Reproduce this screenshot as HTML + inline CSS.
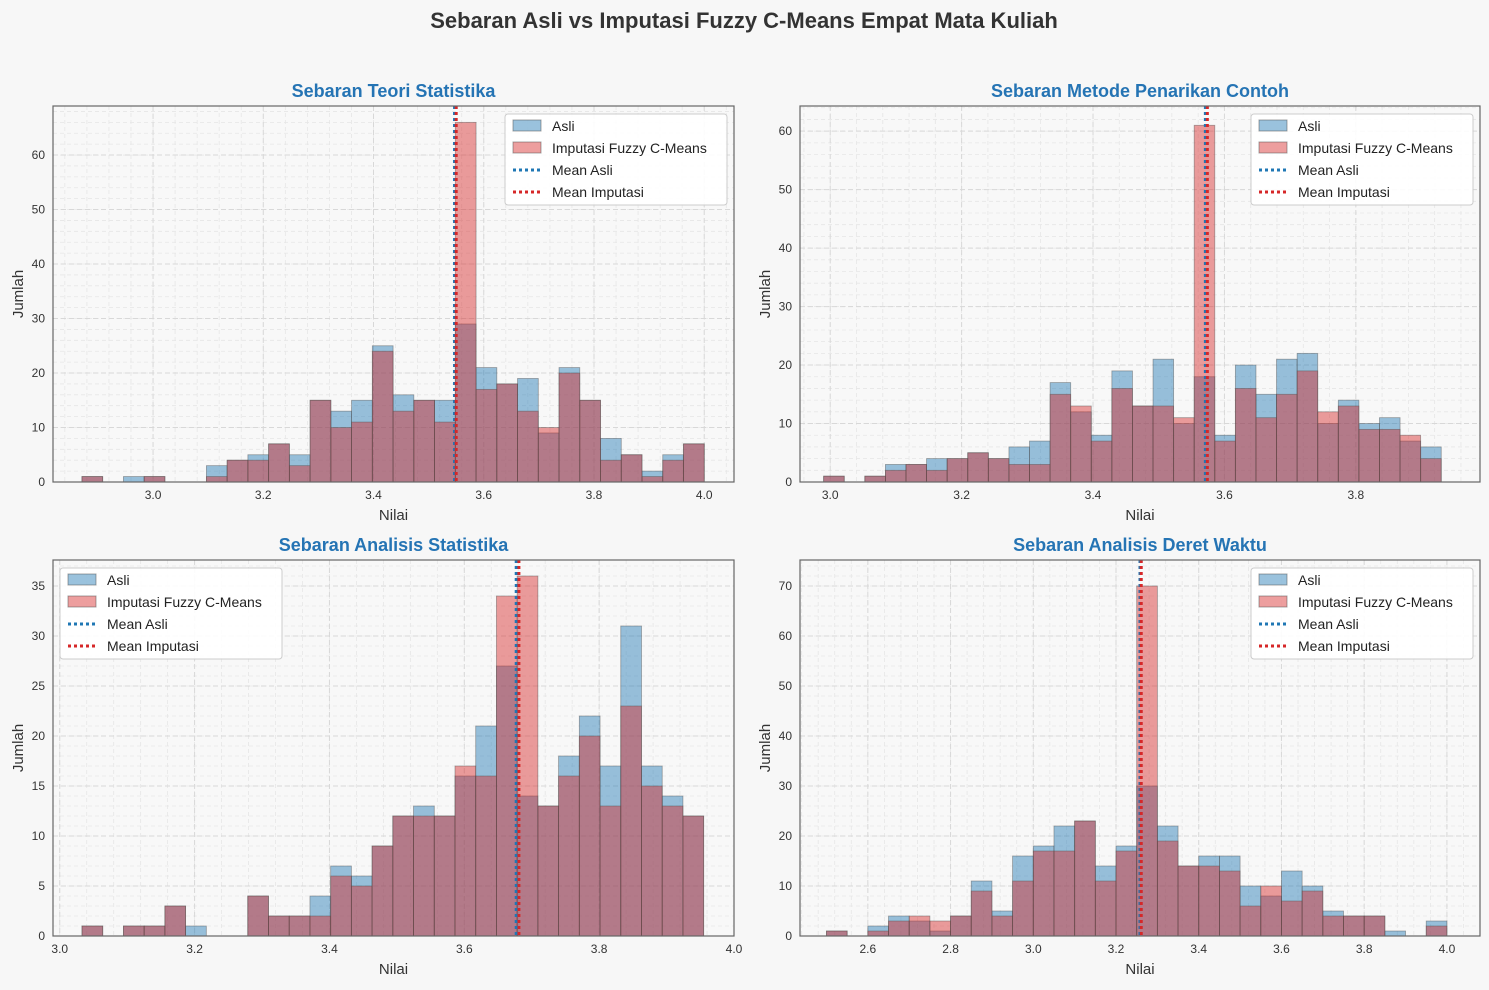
<!DOCTYPE html>
<html><head><meta charset="utf-8"><style>
body{margin:0;background:#f7f7f7;font-family:"Liberation Sans",Arial,sans-serif;}
svg text{font-family:"Liberation Sans",Arial,sans-serif;}
</style></head><body>
<svg id="fig" width="1489" height="985" xmlns="http://www.w3.org/2000/svg">
<rect width="1489" height="985" fill="#f7f7f7"/>
<text x="744" y="28" text-anchor="middle" font-size="22" font-weight="bold" fill="#333">Sebaran Asli vs Imputasi Fuzzy C-Means Empat Mata Kuliah</text>
</svg>
<script>
const p1Asli=[1,0,1,1,0,0,3,4,5,7,5,15,13,15,25,16,15,15,29,21,18,19,9,21,15,8,5,2,5,7];
const p1Imp=[1,0,0,1,0,0,1,4,4,7,3,15,10,11,24,13,15,11,66,17,18,13,10,20,15,4,5,1,4,7];
const p2Asli=[1,0,1,3,3,4,4,5,4,6,7,17,12,8,19,13,21,10,18,8,20,15,21,22,10,14,10,11,7,6];
const p2Imp=[1,0,1,2,3,2,4,5,4,3,3,15,13,7,16,13,13,11,61,7,16,11,15,19,12,13,9,9,8,4];
const p3Asli=[1,0,1,1,3,1,0,0,4,2,2,4,7,6,9,12,13,12,16,21,27,14,13,18,22,17,31,17,14,12];
const p3Imp=[1,0,1,1,3,0,0,0,4,2,2,2,6,5,9,12,12,12,17,16,34,36,13,16,20,13,23,15,13,12];
const p4Asli=[1,0,2,4,3,1,4,11,5,16,18,22,23,14,18,30,22,14,16,16,10,8,13,10,5,4,4,1,0,3];
const p4Imp=[1,0,1,3,4,3,4,9,4,11,17,17,23,11,17,70,19,14,14,13,6,10,7,9,4,4,4,0,0,2];
const titles=["Sebaran Teori Statistika","Sebaran Metode Penarikan Contoh","Sebaran Analisis Statistika","Sebaran Analisis Deret Waktu"];
const binStart=[2.871,2.99,3.033,2.5];
const binEnd=[4.0,3.93,3.955,4.0];
const meanAsli=[3.547,3.571,3.677,3.258];
const meanImp=[3.550,3.574,3.681,3.261];
const xTicks=[[3.0,3.2,3.4,3.6,3.8,4.0],[3.0,3.2,3.4,3.6,3.8],[3.0,3.2,3.4,3.6,3.8,4.0],[2.6,2.8,3.0,3.2,3.4,3.6,3.8,4.0]];
const yTicks=[[0,10,20,30,40,50,60],[0,10,20,30,40,50,60],[0,5,10,15,20,25,30,35],[0,10,20,30,40,50,60,70]];
const xDom=[[2.8185,4.054],[2.954,3.989],[2.99,4.0],[2.436,4.08]];
const yMax=[69,64.3,37.6,75.2];
const legendLeft=[false,false,true,false];
const asliAll=[p1Asli,p2Asli,p3Asli,p4Asli], impAll=[p1Imp,p2Imp,p3Imp,p4Imp];
const NS="http://www.w3.org/2000/svg", svg=document.getElementById('fig');
function mk(t,a,par){const e=document.createElementNS(NS,t);for(const k in a)e.setAttribute(k,a[k]);(par||svg).appendChild(e);return e;}
const boxes=[[53,106,734,482],[800,106,1480,482],[53,560,734,936],[800,560,1480,936]];
for(let p=0;p<4;p++){
 const [L,T,R,B]=boxes[p];
 const g=mk('g',{});
 
 
 const xs=v=>L+(v-xDom[p][0])/(xDom[p][1]-xDom[p][0])*(R-L);
 const ys=v=>B-v/yMax[p]*(B-T);
 mk('rect',{x:L,y:T,width:R-L,height:B-T,fill:'#f8f8f8'},g);
 const xt=xTicks[p], yt=yTicks[p];
 const xstep=xt[1]-xt[0], ystep=yt[1]-yt[0];
 for(let v=xt[0]-xstep;v<=xDom[p][1];v+=xstep/5){const x=xs(v);if(x>L&&x<R)mk('line',{x1:x,x2:x,y1:T,y2:B,stroke:'#e6e6e6','stroke-width':0.8,'stroke-dasharray':'4,3'},g);}
 for(let v=0;v<=yMax[p];v+=ystep/5){const y=ys(v);if(y>T&&y<B)mk('line',{x1:L,x2:R,y1:y,y2:y,stroke:'#e6e6e6','stroke-width':0.8,'stroke-dasharray':'4,3'},g);}
 xt.forEach(v=>{const x=xs(v);mk('line',{x1:x,x2:x,y1:T,y2:B,stroke:'#d8d8d8','stroke-width':1,'stroke-dasharray':'5,3'},g);
  const t=mk('text',{x:x,y:B+17,'text-anchor':'middle','font-size':12,fill:'#333'},g);t.textContent=v.toFixed(1);
  
  });
 yt.forEach(v=>{const y=ys(v);mk('line',{x1:L,x2:R,y1:y,y2:y,stroke:'#d8d8d8','stroke-width':1,'stroke-dasharray':'5,3'},g);
  const t=mk('text',{x:L-8,y:y+4,'text-anchor':'end','font-size':12,fill:'#333'},g);t.textContent=v;
  
  });
 const n=asliAll[p].length, w=(binEnd[p]-binStart[p])/n;
 [[asliAll[p],'#1f77b4','bar-asli'],[impAll[p],'#d62728','bar-imputasi']].forEach(([arr,c,nm])=>{
  arr.forEach((v,i)=>{if(v<=0)return;const x0=xs(binStart[p]+i*w),x1=xs(binStart[p]+(i+1)*w);
   const r=mk('rect',{x:x0,y:ys(v),width:x1-x0,height:B-ys(v),fill:c,'fill-opacity':0.45,stroke:'rgba(80,80,80,0.5)','stroke-width':0.8},g);
   
   });
 });
 const la=mk('line',{x1:xs(meanAsli[p]),x2:xs(meanAsli[p]),y1:T,y2:B,stroke:'#1f77b4','stroke-width':3,'stroke-dasharray':'3,3'},g);
 
 
 const li=mk('line',{x1:xs(meanImp[p]),x2:xs(meanImp[p]),y1:T,y2:B,stroke:'#d62728','stroke-width':3,'stroke-dasharray':'3,3'},g);
 
 
 mk('rect',{x:L,y:T,width:R-L,height:B-T,fill:'none',stroke:'#666','stroke-width':1.2},g);
 const tt=mk('text',{x:(L+R)/2,y:T-9,'text-anchor':'middle','font-size':18,'font-weight':'bold',fill:'#2574b4'},g);tt.textContent=titles[p];
 
 
 const xl=mk('text',{x:(L+R)/2,y:B+38,'text-anchor':'middle','font-size':15,fill:'#333'},g);xl.textContent='Nilai';
 
 
 const yl=mk('text',{x:L-30,y:(T+B)/2,'text-anchor':'middle','font-size':15,fill:'#333',transform:`rotate(-90 ${L-30} ${(T+B)/2})`},g);yl.textContent='Jumlah';
 
 
 const lx=legendLeft[p]?L+7:R-229, ly=T+8;
 const lg=mk('g',{},g);
 
 
 mk('rect',{x:lx,y:ly,width:222,height:91,rx:3,fill:'#fff','fill-opacity':0.9,stroke:'#ccc'},lg);
 const items=[['Asli','patch','#1f77b4'],['Imputasi Fuzzy C-Means','patch','#d62728'],['Mean Asli','line','#1f77b4'],['Mean Imputasi','line','#d62728']];
 items.forEach((it,k)=>{const cy=ly+12+k*22;
  if(it[1]=='patch')mk('rect',{x:lx+8,y:cy-6,width:28,height:11,fill:it[2],'fill-opacity':0.45,stroke:'rgba(80,80,80,0.5)'},lg);
  else mk('line',{x1:lx+8,x2:lx+36,y1:cy,y2:cy,stroke:it[2],'stroke-width':3,'stroke-dasharray':'3,3'},lg);
  const t=mk('text',{x:lx+47,y:cy+5,'font-size':14,fill:'#222'},lg);t.textContent=it[0];
  
  });
}
</script>
</body></html>
